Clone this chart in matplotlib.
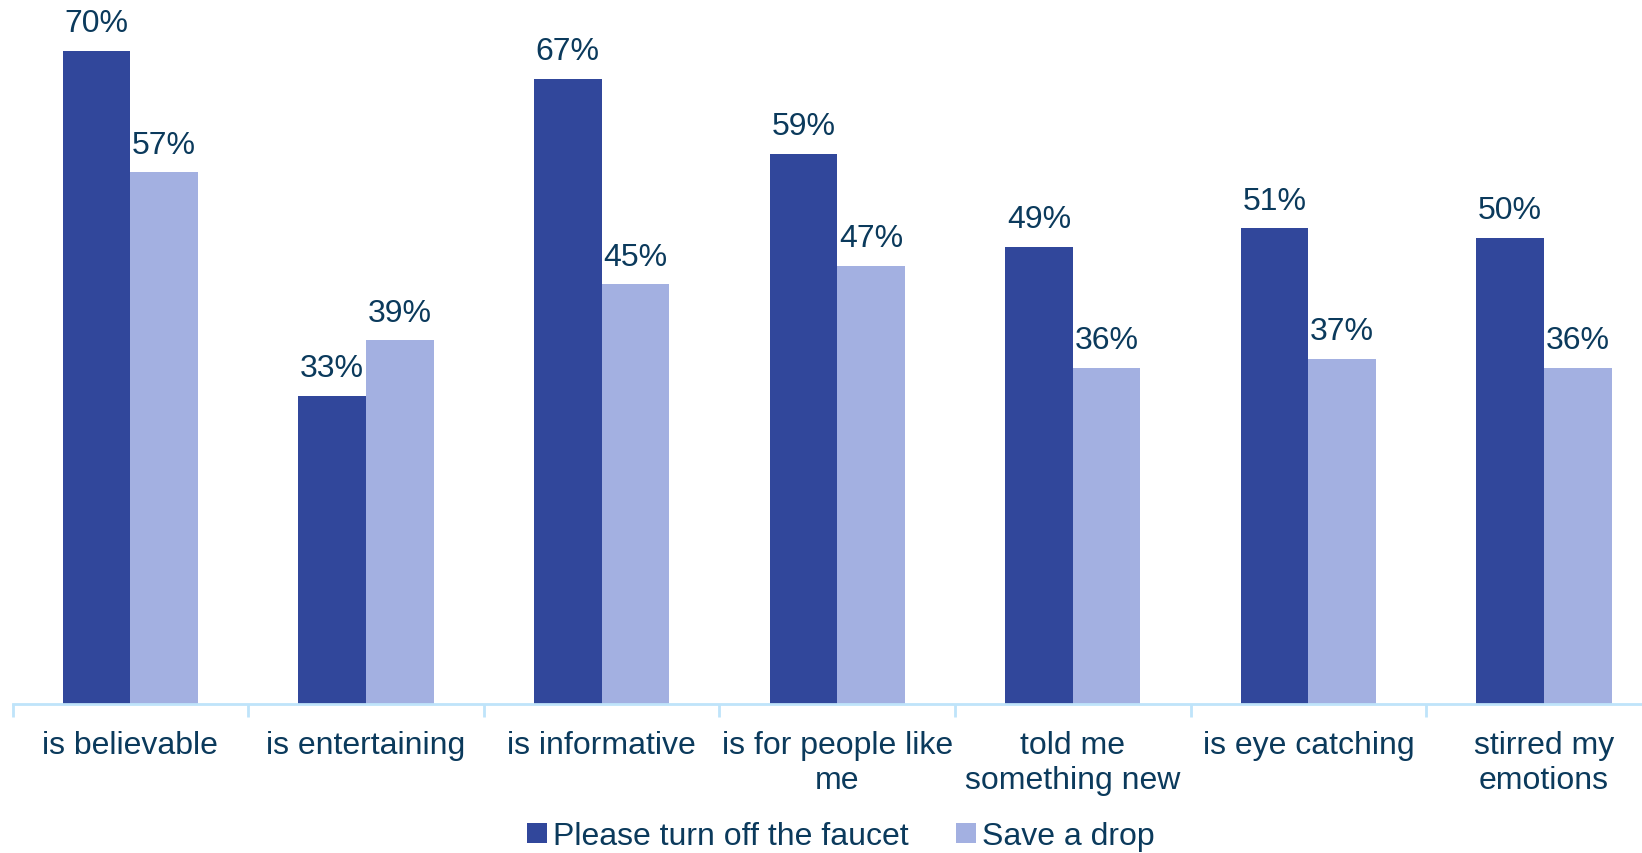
import matplotlib.pyplot as plt
import numpy as np

plt.rcParams['font.family'] = ['Liberation Sans', 'DejaVu Sans']

categories = ['is believable', 'is entertaining', 'is informative', 'is for people like\nme',
              'told me\nsomething new', 'is eye catching', 'stirred my\nemotions']
faucet = [70, 33, 67, 59, 49, 51, 50]
drop = [57, 39, 45, 47, 36, 37, 36]
series_names = ['Please turn off the faucet', 'Save a drop']

txt = '#0b3a5c'
dark = '#31479b'
light = '#a3b0e1'
axc = '#bfe4fa'

fig = plt.figure(figsize=(16.42, 8.535), dpi=100)
ax = fig.add_axes([0.00767, 0.1747, 1.00438, 0.8195])

x = np.arange(len(categories)) + 0.5
w = 0.2867
b1 = ax.bar(x - w / 2, faucet, w, color=dark, label=series_names[0])
b2 = ax.bar(x + w / 2, drop, w, color=light, label=series_names[1])

for bars, vals in ((b1, faucet), (b2, drop)):
    for r, v in zip(bars, vals):
        ax.annotate(f'{v}%', (r.get_x() + r.get_width() / 2, v), xytext=(0, 13.8),
                    textcoords='offset points', ha='center', va='baseline',
                    fontsize=23, color=txt)

ax.set_xlim(0, len(categories))
ax.set_ylim(0, 75)
ax.set_yticks([])
for s in ['top', 'right', 'left']:
    ax.spines[s].set_visible(False)
ax.spines['bottom'].set_color(axc)
ax.spines['bottom'].set_linewidth(2)

ax.set_xticks(np.arange(len(categories) + 1))
ax.set_xticklabels([])
ax.tick_params(axis='x', which='major', length=9, width=2, color=axc)
ax.set_xticks(x, minor=True)
ax.set_xticklabels(categories, minor=True, fontsize=23, color=txt, linespacing=1.24)
ax.tick_params(axis='x', which='minor', length=0, pad=19)

fig.legend(loc='lower center', bbox_to_anchor=(841 / 1642, 0.0), ncol=2, frameon=False,
           fontsize=23, labelcolor=txt, handlelength=0.6, handleheight=0.6,
           handletextpad=0.2, columnspacing=1.5, borderaxespad=0, borderpad=0.05)

fig.savefig('out.png', dpi=100)
